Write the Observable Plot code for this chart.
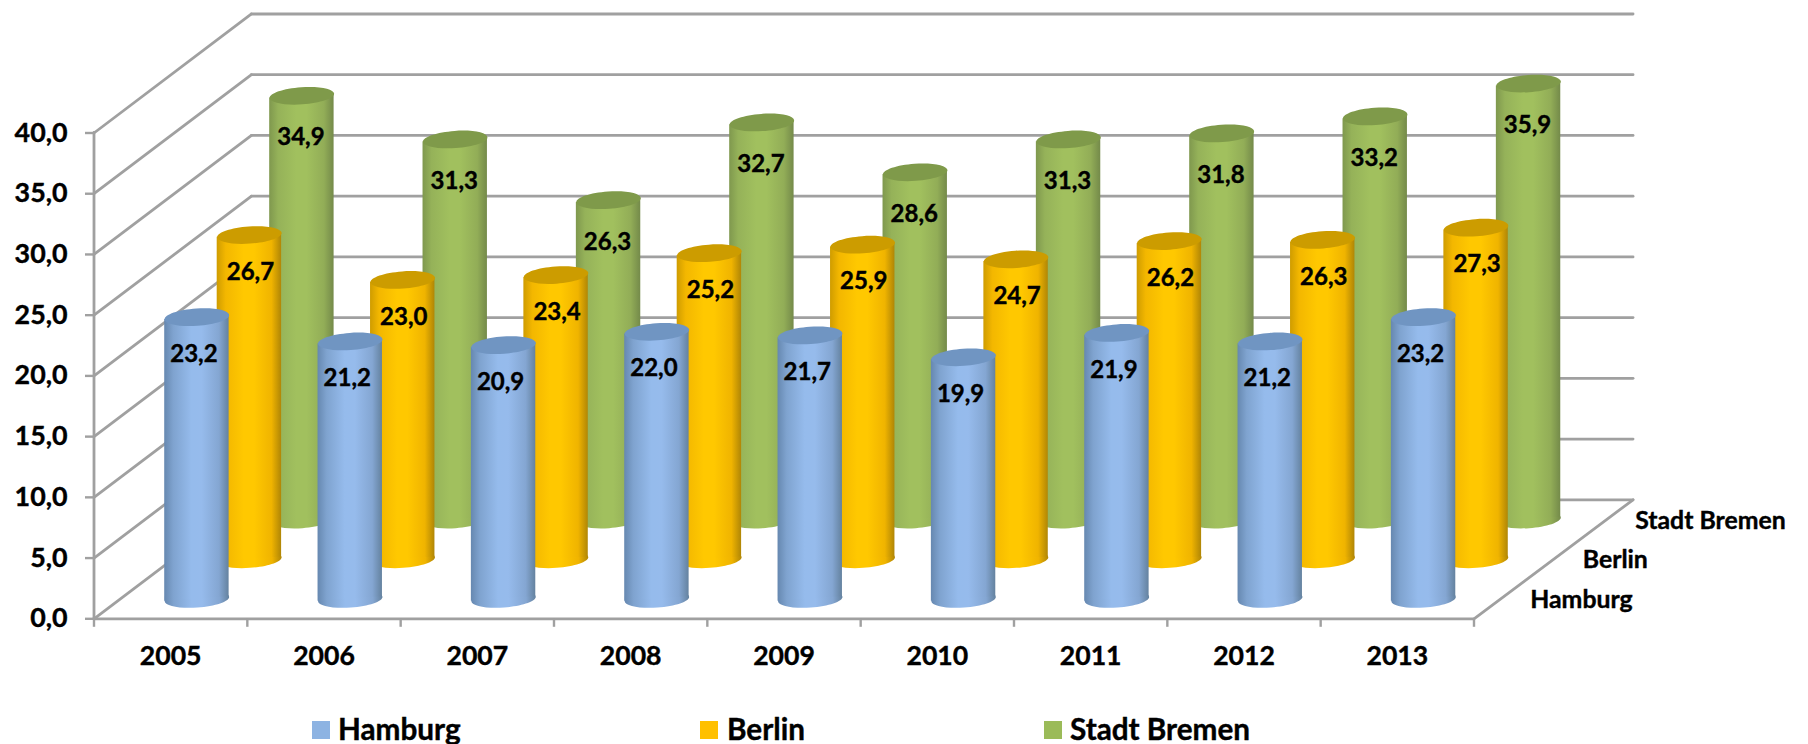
<!DOCTYPE html>
<html>
<head>
<meta charset="utf-8">
<script src="https://cdn.jsdelivr.net/npm/d3@7"></script>
<script src="https://cdn.jsdelivr.net/npm/@observablehq/plot@0.6"></script>
<style>
  html, body { margin: 0; padding: 0; background: #fff; overflow: hidden; }
  #chart svg { display: block; }
  #chart text { stroke: #000; stroke-width: 0.4px; }
  #legend { position: relative; height: 44px; font: bold 29.7px Lato, sans-serif; color: #000; -webkit-text-stroke: 0.4px #000; }
  #legend i { position: absolute; top: 21px; width: 18px; height: 18px; }
  #legend span { position: absolute; line-height: 1; top: 14px; white-space: nowrap; }
</style>
</head>
<body>
<div id="chart"></div>
<div id="legend"></div>
<script>
const years = [2005, 2006, 2007, 2008, 2009, 2010, 2011, 2012, 2013];
const hamburg = [23.2, 21.2, 20.9, 22.0, 21.7, 19.9, 21.9, 21.2, 23.2];
const berlin = [26.7, 23.0, 23.4, 25.2, 25.9, 24.7, 26.2, 26.3, 27.3];
const bremen = [34.9, 31.3, 26.3, 32.7, 28.6, 31.3, 31.8, 33.2, 35.9];
const levels = [0, 5, 10, 15, 20, 25, 30, 35, 40];

const series = [
  {name: "Hamburg", values: hamburg, id: "blue", swatch: "#8db3e2", top: "#7095c2", labelDx: -3, labelDy: 37,
   stops: ["#66880b0", "#7fa3cf", "#95bbec", "#96bbec", "#84a6d2", "#64829f"]},
  {name: "Berlin", values: berlin, id: "gold", swatch: "#ffc000", top: "#cc9c00", labelDx: 1, labelDy: 37,
   stops: ["#cf9c00", "#f3b700", "#ffc800", "#ffc800", "#f0b400", "#b08606"]},
  {name: "Stadt Bremen", values: bremen, id: "green", swatch: "#9bbb59", top: "#7f9a4a", labelDx: -1, labelDy: 42,
   stops: ["#7f984e", "#95b259", "#a1c05e", "#a1c05e", "#92ad57", "#748a4a"]}
];
series[0].stops[0] = "#6688b0";

// Oblique projection of the 3D box: depth moves a point right and up, in axis units.
const depthX = 1.027, depthY = 9.8;
const depthOf = [1 / 6, 1 / 2, 5 / 6];
const halfWidth = 0.21, tilt = 0.19;
const gridColor = "#a0a0a0";

function ellipseSymbol(rx, ry, deg) {
  const a = deg * Math.PI / 180, c = Math.cos(a), s = Math.sin(a), k = 0.5523;
  const p = (u, v) => [u * c - v * s, u * s + v * c];
  return {
    draw(ctx) {
      ctx.moveTo(...p(rx, 0));
      ctx.bezierCurveTo(...p(rx, k * ry), ...p(k * rx, ry), ...p(0, ry));
      ctx.bezierCurveTo(...p(-k * rx, ry), ...p(-rx, k * ry), ...p(-rx, 0));
      ctx.bezierCurveTo(...p(-rx, -k * ry), ...p(-k * rx, -ry), ...p(0, -ry));
      ctx.bezierCurveTo(...p(k * rx, -ry), ...p(rx, -k * ry), ...p(rx, 0));
      ctx.closePath();
    }
  };
}
const cap = ellipseSymbol(32.3, 8.6, -4);

function rows(s, z) {
  return s.values.map((v, i) => ({
    year: years[i], value: v,
    x: i + 0.5 + z * depthX,
    base: z * depthY,
    top: v + z * depthY
  }));
}

function cylinder(s, z) {
  const data = rows(s, z);
  const edges = data.flatMap((d) => [
    {year: d.year, x: d.x - halfWidth, y1: d.base + (-tilt), y2: d.top + (-tilt)},
    {year: d.year, x: d.x + halfWidth, y1: d.base + tilt, y2: d.top + tilt}
  ]);
  const fill = `url(#grad-${s.id})`;
  return [
    Plot.dot(data, {x: "x", y: "base", symbol: cap, fill}),
    Plot.areaY(edges, {x: "x", y1: "y1", y2: "y2", z: "year", fill}),
    Plot.dot(data, {x: "x", y: "top", symbol: cap, fill: s.top})
  ];
}

function labels(s, z) {
  return Plot.text(rows(s, z), {
    x: "x", y: "top",
    text: (d) => d.value.toFixed(1).replace(".", ","),
    dx: s.labelDx, dy: s.labelDy,
    fontSize: 24, fontWeight: "bold", fill: "#000"
  });
}

const defs = () => {
  const ns = "http://www.w3.org/2000/svg";
  const el = document.createElementNS(ns, "defs");
  const offsets = [0, 0.14, 0.42, 0.58, 0.85, 1];
  for (const s of series) {
    const g = document.createElementNS(ns, "linearGradient");
    g.setAttribute("id", `grad-${s.id}`);
    g.setAttribute("x1", "0"); g.setAttribute("x2", "1");
    g.setAttribute("y1", "0"); g.setAttribute("y2", "0");
    s.stops.forEach((c, i) => {
      const st = document.createElementNS(ns, "stop");
      st.setAttribute("offset", offsets[i]);
      st.setAttribute("stop-color", c);
      g.appendChild(st);
    });
    el.appendChild(g);
  }
  return el;
};

const line = {stroke: gridColor, strokeWidth: 2.8, strokeLinecap: "round"};
const order = [2, 1, 0];

const chart = Plot.plot({
  width: 1808,
  height: 700,
  marginLeft: 93.5,
  marginRight: 334.5,
  marginTop: 132.5,
  marginBottom: 81.7,
  x: {domain: [0, 9], axis: null},
  y: {domain: [0, 40], axis: null},
  style: {fontFamily: "Lato, sans-serif", fontWeight: "bold", background: "#fff", overflow: "visible"},
  marks: [
    defs,
    // side wall and back wall grid
    Plot.link(levels, {x1: () => 0, y1: (v) => v, x2: () => depthX, y2: (v) => v + depthY, ...line}),
    Plot.link(levels, {x1: () => depthX, y1: (v) => v + depthY, x2: () => 9 + depthX * 1.01, y2: (v) => v + depthY, ...line}),
    // floor front and right edges, front vertical
    Plot.link([0], {x1: () => 9, y1: () => 0, x2: () => 9 + depthX * 1.01, y2: () => depthY, ...line}),
    Plot.ruleY([0], {x1: 0, x2: 9, ...line}),
    Plot.ruleX([0], {y1: 0, y2: 40, ...line}),
    Plot.axisY({
      ticks: levels, tickSize: 8.5, tickPadding: 18, label: null,
      tickFormat: (v) => v.toFixed(1).replace(".", ","),
      fontSize: 26.8, fontWeight: "bold", stroke: gridColor, strokeWidth: 2.4, fill: "#000"
    }),
    Plot.axisX({
      ticks: d3.range(10), tickSize: 8.5, tickFormat: () => "", label: null,
      stroke: gridColor, strokeWidth: 2.4
    }),
    Plot.axisX({
      ticks: years.map((_, i) => i + 0.5), tickSize: 0, tickPadding: 27, label: null,
      tickFormat: (v) => String(years[Math.floor(v)]),
      fontSize: 26.6, fontWeight: "bold", fill: "#000"
    }),
    // depth axis names
    Plot.text(series, {
      x: (s, i) => 9 + depthOf[i] * depthX,
      y: (s, i) => depthOf[i] * depthY,
      text: "name", textAnchor: "start", dx: 30, dy: 1,
      fontSize: 24.8, fontWeight: "bold", fill: "#000"
    }),
    // cylinders, back row first so nearer rows overlap them
    ...order.flatMap((k) => cylinder(series[k], depthOf[k])),
    ...order.map((k) => labels(series[k], depthOf[k]))
  ]
});
document.getElementById("chart").appendChild(chart);

const legendX = [{box: 312, text: 338}, {box: 700, text: 727}, {box: 1044, text: 1070}];
const legend = document.getElementById("legend");
series.forEach((s, i) => {
  const b = document.createElement("i");
  b.style.left = legendX[i].box + "px";
  b.style.background = s.swatch;
  const t = document.createElement("span");
  t.style.left = legendX[i].text + "px";
  t.textContent = s.name;
  legend.append(b, t);
});
</script>
</body>
</html>
